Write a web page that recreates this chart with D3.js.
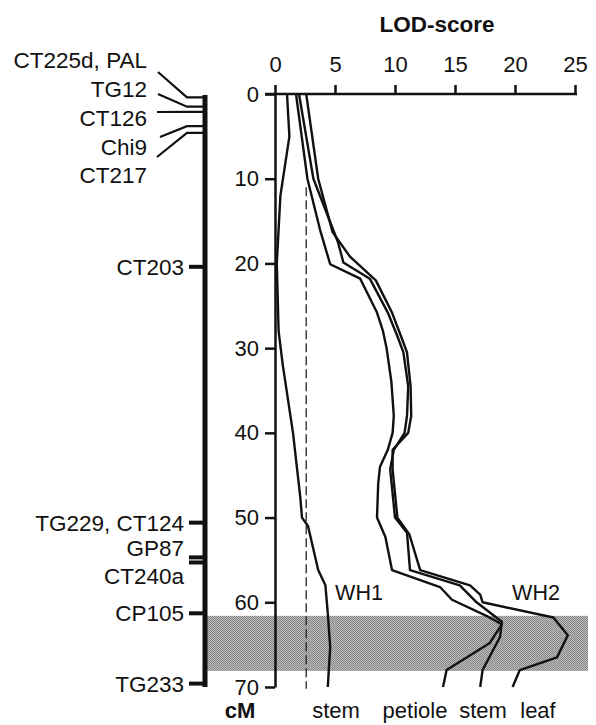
<!DOCTYPE html>
<html>
<head>
<meta charset="utf-8">
<script src="https://cdn.jsdelivr.net/npm/d3@7"></script>
<style>
body { margin:0; background:#fff; }
svg { display:block; }
text { font-family: "Liberation Sans", Arial, Helvetica, sans-serif; fill:#111; }
</style>
</head>
<body>
<script>
//declare data
var cmTicks = [0,10,20,30,40,50,60,70];
var lodTicks = [0,5,10,15,20,25];

var markerNames = ["CT225d, PAL","TG12","CT126","Chi9","CT217","CT203","TG229, CT124","GP87","CT240a","CP105","TG233"];
var markerCM = [0.4,1.5,2.1,3.8,4.6,20.4,50.6,54.7,55.3,61.3,69.6];

var lodThreshold = 2.6;
var qtlRegion = [61.6,68.1];

var wh1StemCM  = [0,5,12,20,28,32,40,47.5,50,51,56.2,58,61.3,65.3,67.6,70];
var wh1StemLOD = [1.0,1.2,0.45,0.15,0.3,0.65,1.5,2.1,2.25,2.75,3.6,4.2,4.4,4.6,4.5,4.4];

var wh2PetioleCM  = [0,10,16,20.1,21.8,25.8,28,30,34,38,40,42,44,46,50,52.3,56.2,58.2,59.7,61.7,62.6,64.8,68,70];
var wh2PetioleLOD = [1.75,2.7,3.75,4.6,7.1,8.5,9.0,9.3,9.7,9.9,9.8,9.4,8.75,8.6,8.5,9.2,9.75,13.75,14.75,17.75,18.9,17.9,14.3,14.0];

var wh2StemCM  = [0,10,17.5,19.9,21.8,25.8,28.6,30.5,34.5,38,40,42,44.3,50,51.8,56.2,58,60,62.3,64.1,68,70];
var wh2StemLOD = [2.0,3.2,5.25,5.7,7.9,9.4,10.2,10.7,11.1,11.0,10.8,9.9,9.6,10.0,11.0,11.25,15.4,16.8,18.9,18.75,17.3,17.1];

var wh2LeafCM  = [0,10,16.3,19.2,22,25.8,28.6,30.5,34.5,38,40,42,44.3,50,52,56.2,58,59.1,60,61.8,63.9,66.5,68,70];
var wh2LeafLOD = [2.6,3.6,4.8,6.25,8.4,9.75,10.5,11.0,11.3,11.35,11.1,9.8,9.8,10.2,11.2,12.1,16.25,17.1,17.3,23.2,24.4,23.5,20.4,19.8];

var tissueNames = ["stem","petiole","stem","leaf"];
var groupNames = ["WH1","WH2"];

//create svg
var svg = d3.select("body").append("svg")
            .attr("width",596)
            .attr("height",725);

//scales
var x = d3.scaleLinear().domain([0,25]).range([275,575]);
var y = d3.scaleLinear().domain([0,70]).range([94,687]);

//stipple pattern for the shaded region
var pat = svg.append("defs").append("pattern")
            .attr("id","stipple")
            .attr("width",2).attr("height",2)
            .attr("patternUnits","userSpaceOnUse");
pat.append("rect").attr("width",2).attr("height",2).attr("fill","#bebebe");
pat.append("rect").attr("width",1).attr("height",1).attr("fill","#858585");
pat.append("rect").attr("x",1).attr("y",1).attr("width",1).attr("height",1).attr("fill","#858585");

svg.append("rect")
    .attr("x",207)
    .attr("width",588-207)
    .attr("y",y(qtlRegion[0]))
    .attr("height",y(qtlRegion[1])-y(qtlRegion[0]))
    .attr("fill","url(#stipple)");

//threshold line
svg.append("line")
    .attr("x1",x(lodThreshold)).attr("x2",x(lodThreshold))
    .attr("y1",y(11)).attr("y2",y(70.2))
    .attr("stroke","#222")
    .attr("stroke-width",1.3)
    .attr("stroke-dasharray","9,4");

//axes
var yAxis = d3.axisLeft(y).tickValues(cmTicks).tickSize(10).tickPadding(6).tickSizeOuter(0);
var gY = svg.append("g").attr("transform","translate(275,0)").call(yAxis);

var xAxis = d3.axisTop(x).tickValues(lodTicks).tickSize(9).tickPadding(13).tickSizeOuter(0);
var gX = svg.append("g").attr("transform","translate(0,94)").call(xAxis);

[gY,gX].forEach(function(g){
    g.attr("font-family",null).attr("font-size",null);
    g.selectAll("path,line").attr("stroke","#111").attr("stroke-width",2.5);
    g.selectAll("text").style("font-size","22px").attr("fill","#111");
});
gX.select(".domain").attr("d","M265,0H577");

//lines
var line = d3.line()
            .x(function(d){ return x(d[1]); })
            .y(function(d){ return y(d[0]); });

var series = [
    d3.zip(wh1StemCM,wh1StemLOD),
    d3.zip(wh2PetioleCM,wh2PetioleLOD),
    d3.zip(wh2StemCM,wh2StemLOD),
    d3.zip(wh2LeafCM,wh2LeafLOD)
];

svg.selectAll("path.lod")
    .data(series)
    .enter().append("path")
        .attr("class","lod")
        .attr("fill","none")
        .attr("stroke","#111")
        .attr("stroke-width",2.4)
        .attr("stroke-linejoin","round")
        .attr("d",line);

//chromosome bar
var barX = 205;
svg.append("line")
    .attr("x1",barX).attr("x2",barX)
    .attr("y1",y(0)+1).attr("y2",y(70))
    .attr("stroke","#111")
    .attr("stroke-width",5);

//top markers fanned out to the left
var fanLabelY = [60,89,118,147,175];
var fanStart = [[158,72],[158,94],[157,112],[160,137],[157,157]];
markerNames.slice(0,5).forEach(function(name,i){
    var my = y(markerCM[i]);
    svg.append("path")
        .attr("fill","none")
        .attr("stroke","#111")
        .attr("stroke-width",2.2)
        .attr("d","M"+fanStart[i][0]+","+fanStart[i][1]+"L187,"+my+"H"+barX);
    svg.append("text")
        .attr("x",147).attr("y",fanLabelY[i])
        .attr("dy","0.36em")
        .attr("text-anchor","end")
        .style("font-size","22.5px")
        .text(name);
});

//lower markers with short ticks
var tickLabelShift = [0,0,-9,13,0,0];
markerNames.slice(5).forEach(function(name,j){
    var i = j+5;
    var my = y(markerCM[i]);
    svg.append("line")
        .attr("x1",189).attr("x2",barX)
        .attr("y1",my).attr("y2",my)
        .attr("stroke","#111")
        .attr("stroke-width",4);
    svg.append("text")
        .attr("x",184).attr("y",my+tickLabelShift[j])
        .attr("dy","0.36em")
        .attr("text-anchor","end")
        .style("font-size","22.5px")
        .text(name);
});

//axis titles
svg.append("text")
    .attr("x",437).attr("y",32)
    .attr("text-anchor","middle")
    .style("font-size","22.5px")
    .style("font-weight","bold")
    .text("LOD-score");

svg.append("text")
    .attr("x",240).attr("y",718)
    .attr("text-anchor","middle")
    .style("font-size","22px")
    .style("font-weight","bold")
    .text("cM");

//series labels
var tissueX = [336,415,483,538];
svg.selectAll("text.tissue")
    .data(tissueNames)
    .enter().append("text")
        .attr("class","tissue")
        .attr("x",function(d,i){ return tissueX[i]; })
        .attr("y",718)
        .attr("text-anchor","middle")
        .style("font-size","22px")
        .text(function(d){ return d; });

var groupX = [359,536];
svg.selectAll("text.group")
    .data(groupNames)
    .enter().append("text")
        .attr("class","group")
        .attr("x",function(d,i){ return groupX[i]; })
        .attr("y",600)
        .attr("text-anchor","middle")
        .style("font-size","21.5px")
        .text(function(d){ return d; });
</script>
</body>
</html>
